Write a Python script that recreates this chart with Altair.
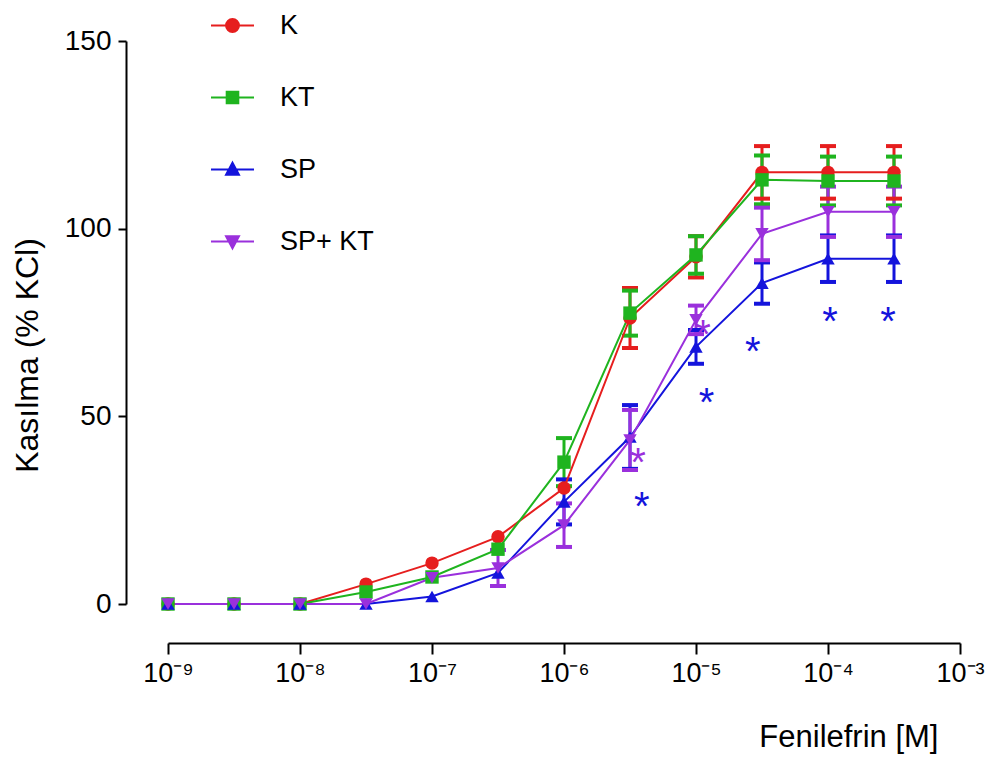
import altair as alt
import pandas as pd

# ---- data ----
x_exp = [-9, -8.5, -8, -7.5, -7, -6.5, -6, -5.5, -5, -4.5, -4, -3.5]
series = ["K", "KT", "SP", "SP+ KT"]
K_mean = [0, 0, 0, 5.3, 10.9, 17.9, 30.9, 76.2, 92.5, 115, 115, 115]
K_sem = [0, 0, 0, 0, 0, 0, 0, 8, 5.5, 7, 7, 7]
KT_mean = [0, 0, 0, 3.2, 7.2, 14.6, 37.8, 77.5, 93, 113, 112.7, 112.7]
KT_sem = [0, 0, 0, 0, 0, 0, 6.4, 6, 5, 6.5, 6.5, 6.5]
SP_mean = [0, 0, 0, 0, 2, 8.3, 27.2, 44.5, 68.5, 85.5, 92, 92]
SP_sem = [0, 0, 0, 0, 0, 0, 6, 8.5, 4.5, 5.5, 6.2, 6.2]
SPKT_mean = [0, 0, 0, 0, 7, 9.6, 21, 43.7, 75.7, 98.6, 104.5, 104.5]
SPKT_sem = [0, 0, 0, 0, 0, 4.8, 5.8, 8, 3.8, 7, 6.7, 6.7]

star_x = [-5.41, -4.92, -4.57, -3.985, -3.545, -5.44, -4.947]
star_y = [28.5, 56.2, 69.8, 77.8, 77.8, 40.2, 74.3]
star_series = ["SP", "SP", "SP", "SP", "SP", "SP+ KT", "SP+ KT"]

x_ticks = [-9, -8, -7, -6, -5, -4, -3]
x_tick_labels = ["10⁻⁹", "10⁻⁸", "10⁻⁷", "10⁻⁶", "10⁻⁵", "10⁻⁴", "10⁻³"]
y_ticks = [0, 50, 100, 150]

colors = ["#e61e1e", "#1fb41f", "#1414dc", "#9a30dc"]
shapes = ["circle", "square", "triangle-up", "triangle-down"]
legend_paths = [
    "M-1,0L1,0M0.3,0A0.3,0.3,0,1,1,-0.3,0A0.3,0.3,0,1,1,0.3,0Z",
    "M-1,0L1,0M-0.27,-0.27H0.27V0.27H-0.27Z",
    "M-1,0L1,0M0,-0.32L0.3,0.24L-0.3,0.24Z",
    "M-1,0L1,0M0,0.32L0.3,-0.24L-0.3,-0.24Z",
]

means = [K_mean, KT_mean, SP_mean, SPKT_mean]
sems = [K_sem, KT_sem, SP_sem, SPKT_sem]

rows = []
for s, shp, m, e in zip(series, shapes, means, sems):
    for xv, mv, ev in zip(x_exp, m, e):
        rows.append({"x": xv, "y": mv, "err": ev, "series": s, "marker": shp,
                     "lo": mv - ev, "hi": mv + ev})
df = pd.DataFrame(rows)

caps = []
for r in rows:
    if r["err"] > 0:
        caps.append({"x": r["x"], "cap": r["lo"], "series": r["series"]})
        caps.append({"x": r["x"], "cap": r["hi"], "series": r["series"]})
df_caps = pd.DataFrame(caps)

df_stars = pd.DataFrame({"x": star_x, "y": star_y, "series": star_series})

FONT = "Liberation Sans"

color_scale = alt.Scale(domain=series, range=colors)

x_enc = alt.X(
    "x:Q",
    scale=alt.Scale(domain=[-9, -3], nice=False, zero=False),
    axis=alt.Axis(
        values=x_ticks,
        labelExpr="[" + ",".join(f"'{t}'" for t in x_tick_labels) + "][round(datum.value + 9)]",
        title="Fenilefrin [M]",
        titleFont=FONT, titleFontSize=31, titleFontWeight="normal", titleColor="black",
        titleX=770, titleY=94, titleAlign="right", titleBaseline="middle", titleAnchor="end",
        labelFont=FONT, labelFontSize=27, labelColor="black", labelPadding=6,
        labelFlush=False, labelOverlap=False,
        offset=39, tickSize=11, tickWidth=2, tickColor="black",
        domainColor="black", domainWidth=2, grid=False,
    ),
)
y_enc = alt.Y(
    "y:Q",
    scale=alt.Scale(domain=[0, 150], nice=False),
    axis=alt.Axis(
        values=y_ticks,
        title="Kasılma (% KCl)",
        titleFont=FONT, titleFontSize=32, titleFontWeight="normal", titleColor="black",
        titleX=-99, titleY=314, titleAlign="center", titleBaseline="middle", titleAngle=-90,
        labelFont=FONT, labelFontSize=28, labelColor="black", labelPadding=7,
        labelFlush=False, labelOverlap=False,
        offset=42, tickSize=8, tickWidth=2, tickColor="black",
        domainColor="black", domainWidth=2, grid=False,
    ),
)

legend = alt.Legend(
    title=None,
    orient="none",
    legendX=42,
    legendY=-38,
    padding=0,
    symbolSize=1849,
    symbolStrokeWidth=2,
    labelFont=FONT,
    labelFontSize=27,
    labelColor="black",
    labelOffset=25,
    rowPadding=36,
    labelExpr="datum.label === 'KT' ? '\u00a0KT' : datum.label",
)

color_enc = alt.Color("series:N", scale=color_scale, legend=legend)

base = alt.Chart(df)

# legend-only layer: no data rows, symbols are line + marker paths
legend_layer = base.transform_filter("false").mark_point(
    filled=True, opacity=1, strokeWidth=2
).encode(
    x=x_enc,
    y=y_enc,
    shape=alt.Shape("series:N", scale=alt.Scale(domain=series, range=legend_paths), legend=legend),
    color=color_enc,
    stroke=alt.Stroke("series:N", scale=alt.Scale(domain=series, range=colors), legend=legend),
)

err_rules = base.transform_filter("datum.err > 0").mark_rule(strokeWidth=3).encode(
    x=alt.X("x:Q"),
    y=alt.Y("lo:Q"),
    y2=alt.Y2("hi:Q"),
    color=color_enc,
)

cap_rules = alt.Chart(df_caps).mark_rule(strokeWidth=4, xOffset=-8, x2Offset=8).encode(
    x=alt.X("x:Q"),
    x2=alt.X2("x:Q"),
    y=alt.Y("cap:Q"),
    color=color_enc,
)

lines = base.mark_line(strokeWidth=2).encode(
    x=alt.X("x:Q"),
    y=alt.Y("y:Q"),
    color=color_enc,
)

points = base.mark_point(filled=True, opacity=1, size=180).encode(
    x=alt.X("x:Q"),
    y=alt.Y("y:Q"),
    shape=alt.Shape("marker:N", scale=None),
    color=color_enc,
)

stars = alt.Chart(df_stars).mark_text(
    text="*", font=FONT, fontSize=40, baseline="alphabetic", dy=23
).encode(
    x=alt.X("x:Q"),
    y=alt.Y("y:Q"),
    color=color_enc,
)

chart = alt.layer(legend_layer, err_rules, cap_rules, lines, points, stars).properties(
    width=792,
    height=563,
    autosize=alt.AutoSizeParams(type="none"),
    padding={"left": 160, "top": 33, "right": 26, "bottom": 150},
    background="white",
).configure_view(stroke=None)

chart.save("out.html", embed_options={"renderer": "svg", "actions": False})
